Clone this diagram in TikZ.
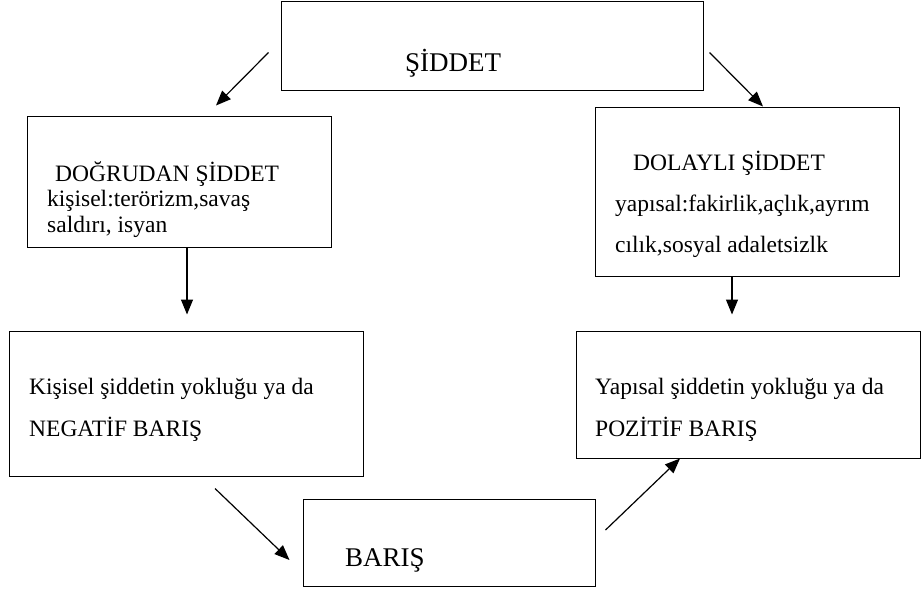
\documentclass[tikz,border=0pt]{standalone}
\usepackage{fontspec}
\setmainfont{Liberation Serif}
\usetikzlibrary{arrows.meta}
\tikzstyle{box} = [rectangle, draw=black, line width=1pt, fill=white, inner sep=0pt]
\tikzstyle{body} = [anchor=base west, inner sep=0pt, align=left, font=\fontsize{23.5}{26}\selectfont]
\tikzstyle{head} = [anchor=base west, inner sep=0pt, font=\fontsize{27}{30}\selectfont]
\tikzstyle{arrow} = [line width=1.2pt, -{Triangle[length=15pt, width=12pt]}]

\begin{document}
\begin{tikzpicture}[x=1pt, y=-1pt]
\useasboundingbox (0,0) rectangle (921,592);

% Boxes
\node (siddet) [box, minimum width=422, minimum height=89] at (492,45.5) {};
\node (dogrudan) [box, minimum width=304, minimum height=131] at (179,181.5) {};
\node (dolayli) [box, minimum width=304, minimum height=169] at (747,191.5) {};
\node (negatif) [box, minimum width=354, minimum height=145] at (186,403.5) {};
\node (pozitif) [box, minimum width=344, minimum height=127] at (748,394.5) {};
\node (baris) [box, minimum width=292, minimum height=87] at (449,542.5) {};

% Texts (multi-line ones sit on their last baseline)
\node (tsiddet) [head] at (405,71) {ŞİDDET};
\node (tdogrudan) [body] at (55,181) {DOĞRUDAN ŞİDDET};
\node (tkisisel) [body, font=\fontsize{23.5}{25.5}\selectfont] at (47,232) {kişisel:terörizm,savaş\\saldırı, isyan};
\node (tdolayli) [body] at (633,170) {DOLAYLI ŞİDDET};
\node (tyapisal) [body, font=\fontsize{23.5}{41}\selectfont] at (615,252) {yapısal:fakirlik,açlık,ayrım\\cılık,sosyal adaletsizlk};
\node (tnegatif) [body, font=\fontsize{23.5}{42}\selectfont] at (29,436) {Kişisel şiddetin yokluğu ya da\\NEGATİF BARIŞ};
\node (tpozitif) [body, font=\fontsize{23.5}{42}\selectfont] at (595,436) {Yapısal şiddetin yokluğu ya da\\POZİTİF BARIŞ};
\node (tbaris) [head] at (345,566) {BARIŞ};

% Connecting arrows
\draw [arrow] ([shift={(-12,7)}]siddet.west) -- ([shift={(37,-10)}]dogrudan.north);
\draw [arrow] ([shift={(6,7)}]siddet.east) -- ([shift={(16,0)}]dolayli.north);
\draw [arrow] ([shift={(8,0)}]dogrudan.south) -- ([shift={(1,-16)}]negatif.north);
\draw [arrow] ([shift={(-15,0)}]dolayli.south) -- ([shift={(-16,-16)}]pozitif.north);
\draw [arrow] ([shift={(29,12)}]negatif.south) -- ([shift={(-13,17.5)}]baris.west);
\draw [arrow] ([shift={(10,-12.5)}]baris.east) -- ([shift={(-68,0)}]pozitif.south);

\end{tikzpicture}
\end{document}
